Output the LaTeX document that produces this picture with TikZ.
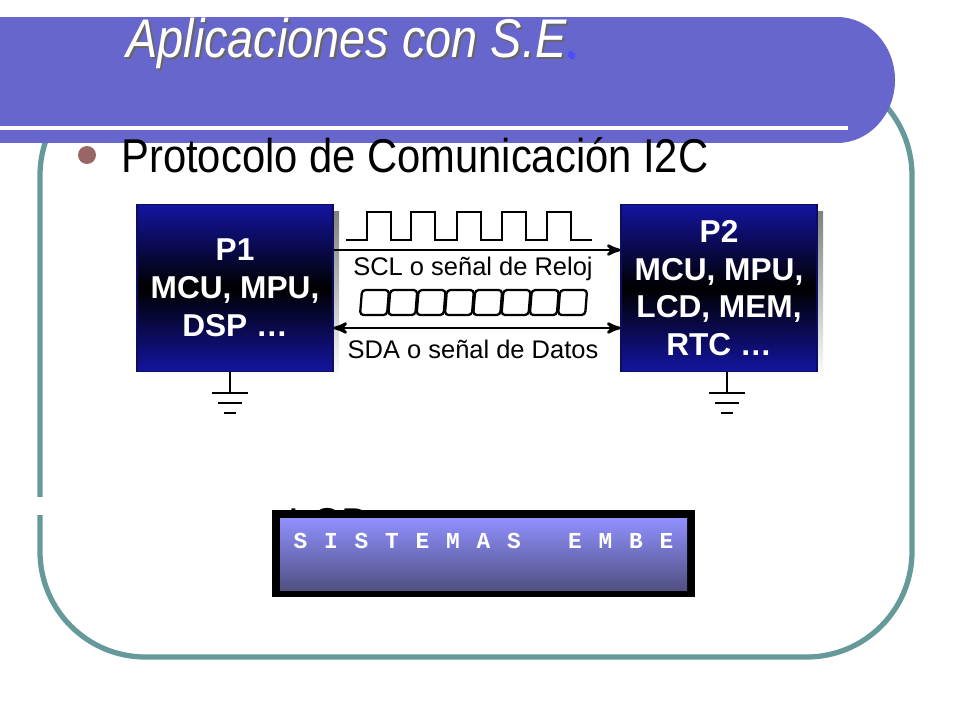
\documentclass[tikz,border=0pt]{standalone}
\usepackage{fontspec}
\setmainfont{Liberation Sans}
\newfontfamily\lcdfont{Liberation Mono}
\usetikzlibrary{positioning}
\usetikzlibrary{calc}
\usetikzlibrary{arrows}
\definecolor{banner}{RGB}{102,102,204}
\definecolor{frame}{RGB}{102,153,153}
\definecolor{procblue}{RGB}{20,20,160}
\definecolor{shade}{RGB}{185,198,205}
\definecolor{dotc}{RGB}{153,102,102}
\tikzset{
proc/.style={
  minimum width=196*0.02cm,
  minimum height=167*0.02cm,
  top color=procblue,
  bottom color=procblue,
  middle color=black,
  draw=procblue!60!black,
  text=white,
  font=\fontsize{18}{21.5}\selectfont\bfseries,
  align=center,
  inner sep=0pt
  },
lbl/.style={font=\fontsize{14.5}{17}\selectfont, inner sep=0pt},
lcdch/.style={text=white,font=\lcdfont\fontsize{13}{15}\selectfont\bfseries,inner sep=0pt},
gnd/.style={line width=1.6pt}
}
\newcommand{\groundsym}[1]{%
  \draw[gnd] (#1) -- ++(0,21);
  \draw[gnd] ($(#1)+(-18,21)$) -- ++(36,0);
  \draw[gnd] ($(#1)+(-12,31)$) -- ++(24,0);
  \draw[gnd] ($(#1)+(-6,41)$) -- ++(12,0);
}
\begin{document}
\begin{tikzpicture}[x=0.02cm,y=-0.02cm,>=stealth',semithick]
\useasboundingbox (0,0) rectangle (960,720);
% frame and banner
\draw[frame,line width=3pt,rounded corners=60] (40,70) rectangle (912,657);
\fill[white] (30,497) rectangle (50,515);
\fill[banner] (0,17) rectangle (837,143);
\fill[banner] (837,80) ellipse (58 and 63);
\draw[white,line width=2.5pt] (0,128) -- (848,128);
\node[anchor=west,text=black!60,font=\fontsize{31}{34}\selectfont\itshape] at (122,45) {\scalebox{0.86}[1]{Aplicaciones con S.E\textcolor{blue!70}{.}}};
\node[anchor=west,text=white,font=\fontsize{31}{34}\selectfont\itshape] (title) at (120,43) {\scalebox{0.86}[1]{Aplicaciones con S.E\textcolor{blue!70}{.}}};
% bullet
\fill[dotc] (87,155) circle (9);
\node[anchor=west,font=\fontsize{27}{30}\selectfont] (bul) at (115,155) {\scalebox{0.88}[1]{Protocolo de Comunicación I2C}};
% processors
\fill[shade] (143,211) rectangle (339,378);
\fill[shade] (628,211) rectangle (823,378);
\node[proc] (p1) at (235,288) {P1\\MCU, MPU,\\DSP \dots};
\node[proc] (p2) at (719,288) {P2\\MCU, MPU,\\LCD, MEM,\\RTC \dots};
\coordinate (g1) at (230,372);
\coordinate (g2) at (727,372);
\groundsym{g1}
\groundsym{g2}
% bus lines
\draw[->,line width=1.6pt] (p1.east |- 0,250) -- (p2.west |- 0,250);
\draw[<->,line width=1.6pt] (p1.east |- 0,328) -- (p2.west |- 0,328);
\node[lbl] (scl) at (473,269) {SCL o señal de Reloj};
\node[lbl] (sda) at (473,349) {SDA o señal de Datos};
% clock
\draw[line width=1.3pt] (346,240) -- (367,240)
  \foreach \x in {367,411,457,502,547} {-- (\x,240) -- (\x,212) -- (\x+24,212) -- (\x+24,240)} -- (592,240);
% data
\foreach \i in {0,...,7} {
  \draw[line width=1.3pt,rounded corners=2] (362+\i*28.3,290) -- (362+\i*28.3+27,290) -- (362+\i*28.3+25,315) -- (362+\i*28.3-2,315) -- cycle;
}
% LCD
\node[anchor=west,font=\fontsize{27}{30}\selectfont] (lcdtxt) at (282,525) {\scalebox{0.88}[1]{LCD}};
\fill[black] (272,510) rectangle (695,597);
\shade[top color={rgb,255:red,144;green,144;blue,255},bottom color={rgb,255:red,80;green,80;blue,130}] (280,518) rectangle (687,590);
\foreach \c [count=\i] in {S,I,S,T,E,M,A,S,,E,M,B,E} {
  \node[lcdch] at (270+\i*30.5,541) {\c};
}
\end{tikzpicture}
\end{document}
